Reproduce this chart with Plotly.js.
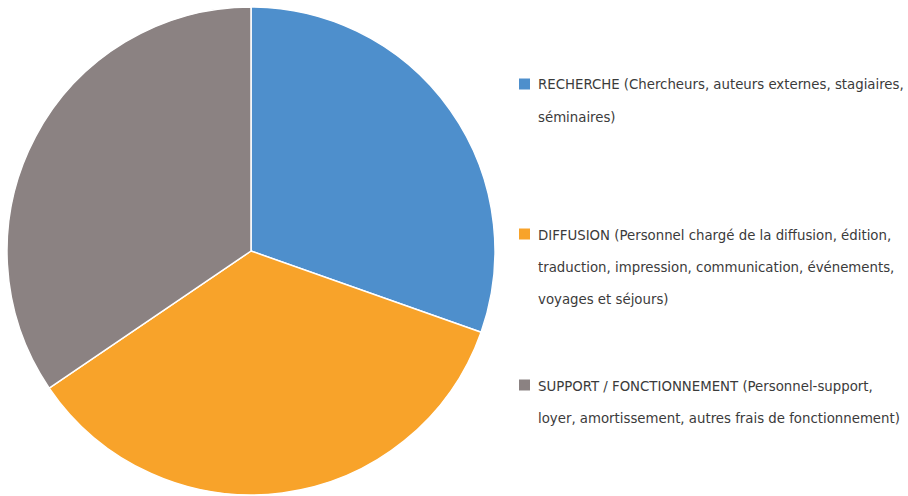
<!DOCTYPE html>
<html><head><meta charset="utf-8">
<script src="https://cdn.plot.ly/plotly-3.0.1.min.js"></script>
<style>html,body{margin:0;padding:0;background:#fff;}#c{width:908px;height:496px;}</style>
</head><body><div id="c"></div>
<script>
var labels = ["RECHERCHE", "DIFFUSION", "SUPPORT / FONCTIONNEMENT"];
var values = [30.4, 35.1, 34.5];
var colors = ["#4e8fcc", "#f8a32a", "#8b8282"];
var legendLines = [
  ["RECHERCHE (Chercheurs, auteurs externes, stagiaires,", "séminaires)"],
  ["DIFFUSION (Personnel chargé de la diffusion, édition,", "traduction, impression, communication, événements,", "voyages et séjours)"],
  ["SUPPORT / FONCTIONNEMENT (Personnel-support,", "loyer, amortissement, autres frais de fonctionnement)"]
];
var W = 908, H = 496;
var itemTop = [84, 234, 385];
var lineGap = 32;
var font = "DejaVu Sans Condensed";
var annotations = [], shapes = [];
legendLines.forEach(function(lines, i){
  var yc = itemTop[i];
  shapes.push({type:"rect", xref:"paper", yref:"paper",
    x0:519/W, x1:530/W, y0:1-(yc+5.5)/H, y1:1-(yc-5.5)/H,
    fillcolor: colors[i], line:{width:0}});
  lines.forEach(function(t, j){
    annotations.push({xref:"paper", yref:"paper", x:536/W, y:1-(yc + j*lineGap)/H,
      xanchor:"left", yanchor:"middle", showarrow:false, text:t,
      font:{family:font, size:14.8, color:"#3b3b3b"}});
  });
});
var data = [{
  type:"pie", labels:labels, values:values, sort:false, direction:"clockwise", rotation:0,
  marker:{colors:colors, line:{color:"#ffffff", width:1.5}},
  textinfo:"none", hoverinfo:"none", showlegend:false,
  domain:{x:[7/W, 495/W], y:[1/H, 489/H]}
}];
var layout = {width:W, height:H, margin:{l:0,r:0,t:0,b:0}, paper_bgcolor:"#fff",
  showlegend:false, annotations:annotations, shapes:shapes};
Plotly.newPlot("c", data, layout, {displayModeBar:false, staticPlot:true});
</script></body></html>
